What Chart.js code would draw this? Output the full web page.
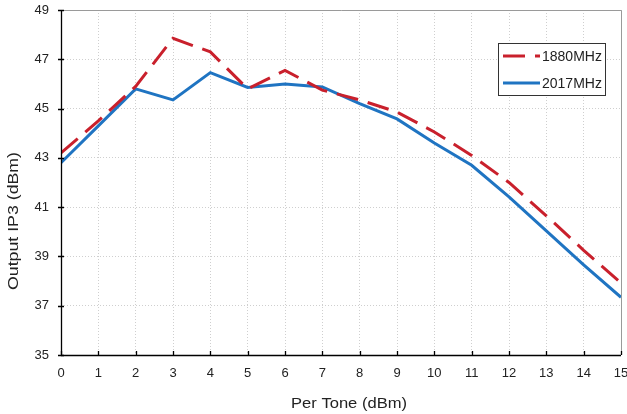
<!DOCTYPE html>
<html>
<head>
<meta charset="utf-8">
<script src="https://cdn.jsdelivr.net/npm/chart.js@4"></script>
<style>
html,body{margin:0;padding:0;background:#fff;}
#wrap{width:627px;height:414px;position:relative;}
</style>
</head>
<body>
<div id="wrap"><canvas id="c" width="627" height="414"></canvas></div>
<script>
const perTone = [0,1,2,3,4,5,6,7,8,9,10,11,12,13,14,15];
const ip3_1880 = [43.2,44.5,45.9,47.85,47.3,45.8,46.55,45.75,45.35,44.86,44.05,43.1,42.0,40.65,39.25,37.92];
const ip3_2017 = [42.8,44.3,45.8,45.35,46.46,45.86,46.0,45.88,45.2,44.58,43.6,42.7,41.42,40.04,38.66,37.34];
const seriesNames = ['1880MHz','2017MHz'];
const yTicks = [35,37,39,41,43,45,47,49];
const xTitle = 'Per Tone (dBm)';
const yTitle = 'Output IP3 (dBm)';

const FONT = "'Liberation Sans', Arial, sans-serif";

const framePlugin = {
  id: 'frame',
  afterDraw(chart) {
    const {ctx, chartArea: a, scales} = chart;
    ctx.save();
    ctx.strokeStyle = '#9a9a9a';
    ctx.lineWidth = 1;
    ctx.beginPath();
    ctx.moveTo(a.left, a.top + 0.5); ctx.lineTo(a.right + 0.5, a.top + 0.5);
    ctx.lineTo(a.right + 0.5, a.bottom);
    ctx.stroke();
    ctx.strokeStyle = '#000';
    ctx.lineWidth = 1.3;
    ctx.beginPath();
    ctx.moveTo(a.left + 0.5, a.top); ctx.lineTo(a.left + 0.5, a.bottom + 0.5);
    ctx.lineTo(a.right, a.bottom + 0.5);
    ctx.stroke();
    ctx.beginPath();
    scales.x.ticks.forEach(t => {
      const px = Math.round(scales.x.getPixelForValue(t.value)) + 0.5;
      ctx.moveTo(px, a.bottom); ctx.lineTo(px, a.bottom - 4);
    });
    scales.y.ticks.forEach(t => {
      const py = Math.round(scales.y.getPixelForValue(t.value)) + 0.5;
      ctx.moveTo(a.left - 3, py); ctx.lineTo(a.left + 3, py);
    });
    ctx.stroke();

    // axis titles (slightly stretched like the reference)
    ctx.fillStyle = '#222';
    ctx.font = '15px ' + FONT;
    ctx.textBaseline = 'alphabetic';
    ctx.textAlign = 'center';
    let w = ctx.measureText(xTitle).width;
    ctx.save();
    ctx.translate(349, 408);
    ctx.scale(116 / w, 1);
    ctx.fillText(xTitle, 0, 0);
    ctx.restore();
    w = ctx.measureText(yTitle).width;
    ctx.save();
    ctx.translate(18, 221);
    ctx.rotate(-Math.PI / 2);
    ctx.scale(138 / w, 1);
    ctx.fillText(yTitle, 0, 0);
    ctx.restore();

    // legend
    const bx = 498, by = 43, bw = 107, bh = 52;
    ctx.fillStyle = '#fff';
    ctx.fillRect(bx, by, bw, bh);
    ctx.strokeStyle = '#333';
    ctx.lineWidth = 1;
    ctx.strokeRect(bx + 0.5, by + 0.5, bw, bh);
    ctx.font = '14px ' + FONT;
    ctx.textAlign = 'left';
    ctx.textBaseline = 'middle';
    ctx.fillStyle = '#222';
    chart.data.datasets.forEach((ds, i) => {
      const yy = by + 13 + i * 27;
      ctx.strokeStyle = ds.borderColor;
      ctx.lineWidth = 3;
      ctx.setLineDash(ds.borderDash || []);
      ctx.beginPath();
      ctx.moveTo(bx + 5, yy); ctx.lineTo(bx + 42, yy);
      ctx.stroke();
      ctx.setLineDash([]);
      ctx.fillText(ds.label, bx + 44, yy + 1);
    });
    ctx.restore();
  }
};

const toPts = arr => perTone.map((x, i) => ({x, y: arr[i]}));

new Chart(document.getElementById('c'), {
  type: 'line',
  data: {
    datasets: [
      { label: seriesNames[0], data: toPts(ip3_1880), borderColor: '#c9202c', borderWidth: 3,
        borderDash: [22, 10], pointRadius: 0, tension: 0, fill: false },
      { label: seriesNames[1], data: toPts(ip3_2017), borderColor: '#1f74c2', borderWidth: 3,
        pointRadius: 0, tension: 0, fill: false }
    ]
  },
  options: {
    responsive: false,
    animation: false,
    devicePixelRatio: 1,
    layout: { padding: { top: 10, right: 6, left: 0, bottom: 0 } },
    plugins: { legend: { display: false }, tooltip: { enabled: false } },
    scales: {
      x: {
        type: 'linear', min: 0, max: 15,
        afterFit(s) { s.height = 59; s.paddingLeft = 0; s.paddingRight = 0; },
        ticks: { stepSize: 1, color: '#222', font: { family: FONT, size: 13 }, padding: 11, maxRotation: 0 },
        grid: { color: '#cfcfcf', drawTicks: false, lineWidth: 1 },
        border: { display: false, dash: [1, 2] },
        title: { display: false }
      },
      y: {
        type: 'linear', min: 35, max: 49,
        afterFit(s) { s.width = 61; s.paddingTop = 0; s.paddingBottom = 0; },
        afterBuildTicks(s) { s.ticks = yTicks.map(v => ({value: v})); },
        ticks: { color: '#222', font: { family: FONT, size: 13 }, padding: 12 },
        grid: { color: '#cfcfcf', drawTicks: false, lineWidth: 1 },
        border: { display: false, dash: [1, 2] },
        title: { display: false }
      }
    }
  },
  plugins: [framePlugin]
});
</script>
</body>
</html>
